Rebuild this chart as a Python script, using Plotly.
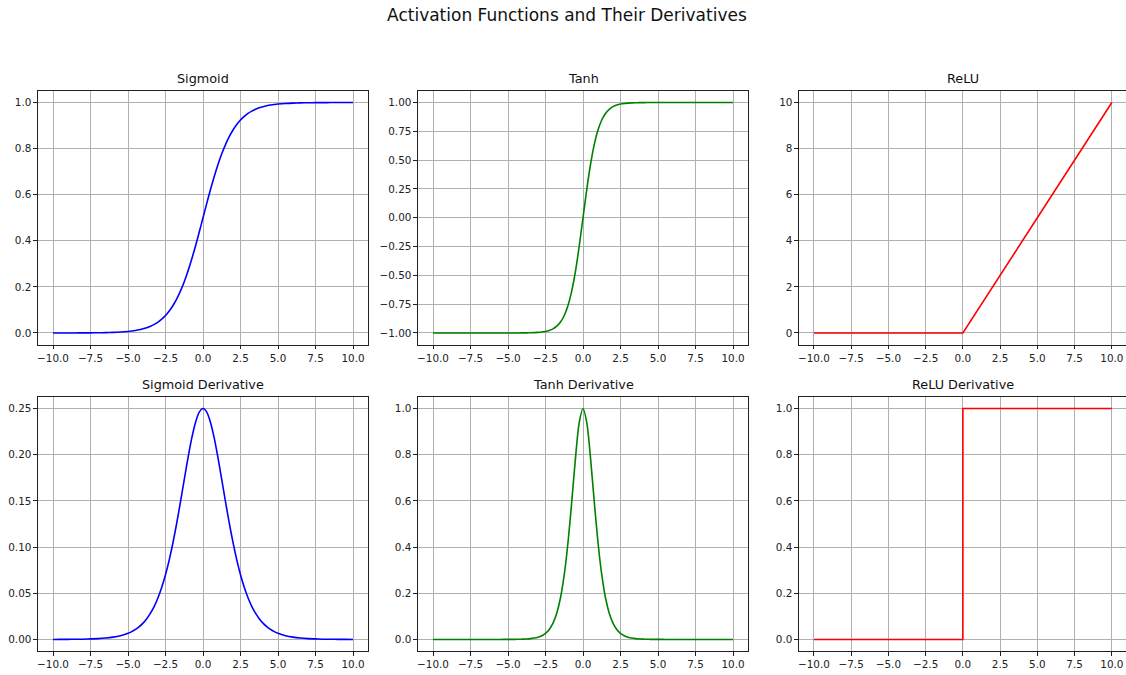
import plotly.graph_objects as go

# ---------------- data ----------------
x_grid = [-10.0, -9.5, -9.0, -8.5, -8.0, -7.5, -7.0, -6.5, -6.0, -5.5,
          -5.0, -4.75, -4.5, -4.25, -4.0, -3.75, -3.5, -3.25, -3.0, -2.75,
          -2.5, -2.25, -2.0, -1.75, -1.5, -1.25, -1.0, -0.75, -0.5, -0.25,
          0.0,
          0.25, 0.5, 0.75, 1.0, 1.25, 1.5, 1.75, 2.0, 2.25, 2.5,
          2.75, 3.0, 3.25, 3.5, 3.75, 4.0, 4.25, 4.5, 4.75, 5.0,
          5.5, 6.0, 6.5, 7.0, 7.5, 8.0, 8.5, 9.0, 9.5, 10.0]

sigmoid_y = [0.0000, 0.0001, 0.0001, 0.0002, 0.0003, 0.0006, 0.0009, 0.0015, 0.0025, 0.0041,
             0.0067, 0.0086, 0.0110, 0.0141, 0.0180, 0.0230, 0.0293, 0.0373, 0.0474, 0.0601,
             0.0759, 0.0953, 0.1192, 0.1480, 0.1824, 0.2227, 0.2689, 0.3208, 0.3775, 0.4378,
             0.5000,
             0.5622, 0.6225, 0.6792, 0.7311, 0.7773, 0.8176, 0.8520, 0.8808, 0.9047, 0.9241,
             0.9399, 0.9526, 0.9627, 0.9707, 0.9770, 0.9820, 0.9859, 0.9890, 0.9914, 0.9933,
             0.9959, 0.9975, 0.9985, 0.9991, 0.9994, 0.9997, 0.9998, 0.9999, 0.9999, 1.0000]

sigmoid_d_y = [0.0000, 0.0001, 0.0001, 0.0002, 0.0003, 0.0006, 0.0009, 0.0015, 0.0025, 0.0041,
               0.0066, 0.0085, 0.0109, 0.0139, 0.0177, 0.0225, 0.0285, 0.0359, 0.0452, 0.0565,
               0.0701, 0.0862, 0.1050, 0.1261, 0.1491, 0.1731, 0.1966, 0.2179, 0.2350, 0.2461,
               0.2500,
               0.2461, 0.2350, 0.2179, 0.1966, 0.1731, 0.1491, 0.1261, 0.1050, 0.0862, 0.0701,
               0.0565, 0.0452, 0.0359, 0.0285, 0.0225, 0.0177, 0.0139, 0.0109, 0.0085, 0.0066,
               0.0041, 0.0025, 0.0015, 0.0009, 0.0006, 0.0003, 0.0002, 0.0001, 0.0001, 0.0000]

tanh_y = [-1.0000, -1.0000, -1.0000, -1.0000, -1.0000, -1.0000, -1.0000, -1.0000, -1.0000, -1.0000,
          -0.9999, -0.9999, -0.9998, -0.9996, -0.9993, -0.9989, -0.9982, -0.9970, -0.9951, -0.9919,
          -0.9866, -0.9780, -0.9640, -0.9414, -0.9051, -0.8483, -0.7616, -0.6351, -0.4621, -0.2449,
          0.0000,
          0.2449, 0.4621, 0.6351, 0.7616, 0.8483, 0.9051, 0.9414, 0.9640, 0.9780, 0.9866,
          0.9919, 0.9951, 0.9970, 0.9982, 0.9989, 0.9993, 0.9996, 0.9998, 0.9999, 0.9999,
          1.0000, 1.0000, 1.0000, 1.0000, 1.0000, 1.0000, 1.0000, 1.0000, 1.0000, 1.0000]

tanh_d_y = [0.0000, 0.0000, 0.0000, 0.0000, 0.0000, 0.0000, 0.0000, 0.0000, 0.0000, 0.0001,
            0.0002, 0.0003, 0.0005, 0.0008, 0.0013, 0.0022, 0.0036, 0.0060, 0.0099, 0.0161,
            0.0266, 0.0435, 0.0707, 0.1138, 0.1807, 0.2804, 0.4200, 0.5966, 0.7864, 0.9400,
            1.0000,
            0.9400, 0.7864, 0.5966, 0.4200, 0.2804, 0.1807, 0.1138, 0.0707, 0.0435, 0.0266,
            0.0161, 0.0099, 0.0060, 0.0036, 0.0022, 0.0013, 0.0008, 0.0005, 0.0003, 0.0002,
            0.0001, 0.0000, 0.0000, 0.0000, 0.0000, 0.0000, 0.0000, 0.0000, 0.0000, 0.0000]

relu_x = [-10.0, 0.0, 10.0]
relu_y = [0.0, 0.0, 10.0]

relu_d_x = [-10.0, 0.0, 0.0, 10.0]
relu_d_y = [0.0, 0.0, 1.0, 1.0]

x_tick_vals = [-10, -7.5, -5, -2.5, 0, 2.5, 5, 7.5, 10]
x_tick_text = ["\u221210.0", "\u22127.5", "\u22125.0", "\u22122.5", "0.0", "2.5", "5.0", "7.5", "10.0"]

sig_ticks = [0.0, 0.2, 0.4, 0.6, 0.8, 1.0]
sig_text = ["0.0", "0.2", "0.4", "0.6", "0.8", "1.0"]
tanh_ticks = [-1.0, -0.75, -0.5, -0.25, 0.0, 0.25, 0.5, 0.75, 1.0]
tanh_text = ["\u22121.00", "\u22120.75", "\u22120.50", "\u22120.25", "0.00", "0.25", "0.50", "0.75", "1.00"]
relu_ticks = [0, 2, 4, 6, 8, 10]
relu_text = ["0", "2", "4", "6", "8", "10"]
sigd_ticks = [0.0, 0.05, 0.1, 0.15, 0.2, 0.25]
sigd_text = ["0.00", "0.05", "0.10", "0.15", "0.20", "0.25"]
unit_ticks = [0.0, 0.2, 0.4, 0.6, 0.8, 1.0]
unit_text = ["0.0", "0.2", "0.4", "0.6", "0.8", "1.0"]

titles = ["Sigmoid", "Tanh", "ReLU", "Sigmoid Derivative", "Tanh Derivative", "ReLU Derivative"]

# ---------------- layout geometry ----------------
W, H = 1126, 675
col_px = [(38, 368), (418, 748), (799, 1126)]
row_px = [(91, 344.5), (397, 651)]
x_ranges = [[-11, 11], [-11, 11], [-11, 10.95]]

panels = [
    dict(x=x_grid, y=sigmoid_y, color="#0000ff", shape="spline", yr=[-0.05, 1.05], tv=sig_ticks, tt=sig_text),
    dict(x=x_grid, y=tanh_y, color="#008000", shape="spline", yr=[-1.1, 1.1], tv=tanh_ticks, tt=tanh_text),
    dict(x=relu_x, y=relu_y, color="#ff0000", shape="linear", yr=[-0.5, 10.5], tv=relu_ticks, tt=relu_text),
    dict(x=x_grid, y=sigmoid_d_y, color="#0000ff", shape="spline", yr=[-0.0125, 0.2625], tv=sigd_ticks, tt=sigd_text),
    dict(x=x_grid, y=tanh_d_y, color="#008000", shape="spline", yr=[-0.05, 1.05], tv=unit_ticks, tt=unit_text),
    dict(x=relu_d_x, y=relu_d_y, color="#ff0000", shape="linear", yr=[-0.05, 1.05], tv=unit_ticks, tt=unit_text),
]

fig = go.Figure()
layout = dict(
    width=W, height=H,
    margin=dict(l=0, r=0, t=0, b=0),
    paper_bgcolor="white", plot_bgcolor="white",
    showlegend=False,
    font=dict(family="DejaVu Sans", color="#222222", size=10.4),
    title=dict(text="Activation Functions and Their Derivatives", x=0.5035, xanchor="center",
               y=1 - 15.5 / H, yanchor="middle", font=dict(size=17, color="#111111")),
)
annotations = []
axis_common = dict(
    showline=True, linecolor="#222222", linewidth=0.9, mirror=True,
    ticks="outside", ticklen=3.6, tickwidth=0.9, tickcolor="#222222",
    showgrid=True, gridcolor="#b0b0b0", gridwidth=0.85,
    zeroline=False, tickfont=dict(size=10.4, color="#222222"),
    fixedrange=True,
)

for i, p in enumerate(panels):
    r, c = divmod(i, 3)
    n = i + 1
    xa = "x" if n == 1 else f"x{n}"
    ya = "y" if n == 1 else f"y{n}"
    fig.add_trace(go.Scatter(x=p["x"], y=p["y"], mode="lines",
                             line=dict(color=p["color"], width=1.6, shape=p["shape"], smoothing=0.8),
                             xaxis=xa, yaxis=ya, hoverinfo="skip"))
    xd = [col_px[c][0] / W, col_px[c][1] / W]
    yd = [1 - row_px[r][1] / H, 1 - row_px[r][0] / H]
    layout["xaxis" if n == 1 else f"xaxis{n}"] = dict(
        axis_common, domain=xd, range=x_ranges[c], anchor=ya,
        tickmode="array", tickvals=x_tick_vals, ticktext=x_tick_text,
    )
    layout["yaxis" if n == 1 else f"yaxis{n}"] = dict(
        axis_common, domain=yd, range=p["yr"], anchor=xa,
        tickmode="array", tickvals=p["tv"], ticktext=p["tt"],
        mirror=(c != 2),
    )
    annotations.append(dict(
        text=titles[i], x=(xd[0] + xd[1]) / 2, y=yd[1], xref="paper", yref="paper",
        xanchor="center", yanchor="bottom", yshift=3, showarrow=False,
        font=dict(size=12.8, color="#111111", family="DejaVu Sans"),
    ))

layout["annotations"] = annotations
fig.update_layout(**layout)
fig.write_html("out.html",
               config={"displayModeBar": False},
               post_script="document.body.style.margin='0';document.body.style.overflow='hidden';")
